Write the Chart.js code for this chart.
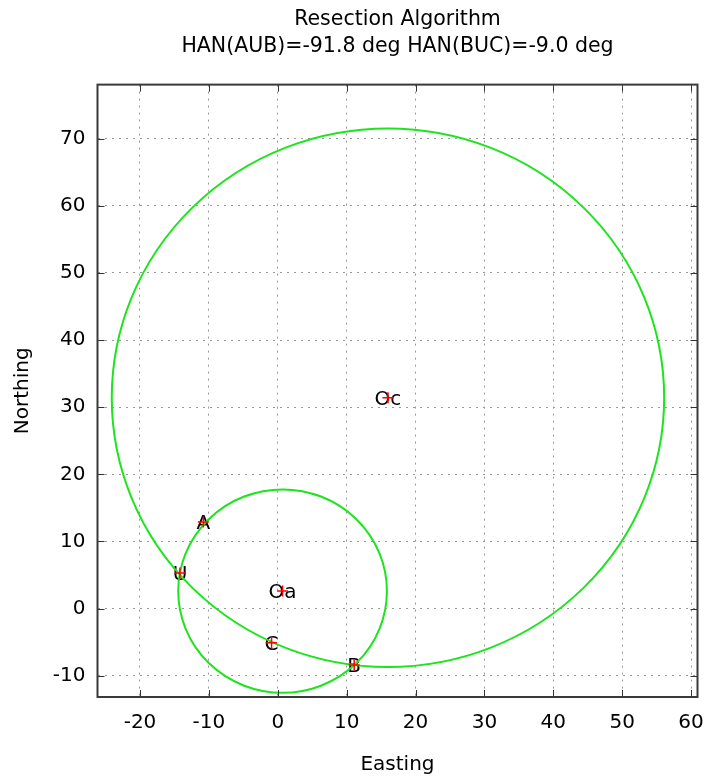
<!DOCTYPE html>
<html>
<head>
<meta charset="utf-8">
<title>Resection Algorithm</title>
<script src="https://cdn.jsdelivr.net/npm/chart.js@4.4.1/dist/chart.umd.min.js"></script>
<style>
  html, body { margin: 0; padding: 0; background: #fff; }
  #wrap { width: 707px; height: 777px; position: relative; }
</style>
</head>
<body>
<div id="wrap"><canvas id="resectionChart"></canvas></div>
<script>
// Punkty (Easting / Northing)
const pointNames = ['A', 'B', 'C', 'U', 'Oa', 'Oc'];
const pointEasting = [-10.8, 11.1, -0.9, -14.2, 0.7, 16.0];
const pointNorthing = [12.9, -8.4, -5.1, 5.3, 2.6, 31.4];

// Okręgi: środek (nazwa punktu) i promień
const circleCenters = ['Oa', 'Oc'];
const circleRadius = [15.15, 40.1];

// Podziałka osi
const xTicks = [-20, -10, 0, 10, 20, 30, 40, 50, 60];
const yTicks = [-10, 0, 10, 20, 30, 40, 50, 60, 70];

const FONT = 'DejaVu Sans';
const FONT_SIZE = 20;
const GREEN = '#1ee41e';

// Etykiety i okręgi pod znacznikami
const circlesAndLabels = {
    id: 'circlesAndLabels',
    beforeDatasetsDraw(chart) {
        const { ctx, scales: { x, y } } = chart;
        ctx.save();

        // Etykiety punktów (wyśrodkowane na punkcie)
        ctx.font = `${FONT_SIZE}px "${FONT}"`;
        ctx.fillStyle = '#000';
        ctx.textAlign = 'center';
        ctx.textBaseline = 'middle';
        pointNames.forEach((name, i) => {
            ctx.fillText(name, x.getPixelForValue(pointEasting[i]), y.getPixelForValue(pointNorthing[i]) + 2);
        });

        // Okręgi
        ctx.strokeStyle = GREEN;
        ctx.lineWidth = 2;
        circleCenters.forEach((c, i) => {
            const idx = pointNames.indexOf(c);
            const cx = x.getPixelForValue(pointEasting[idx]);
            const cy = y.getPixelForValue(pointNorthing[idx]);
            const rx = Math.abs(x.getPixelForValue(pointEasting[idx] + circleRadius[i]) - cx);
            const ry = Math.abs(y.getPixelForValue(pointNorthing[idx] + circleRadius[i]) - cy);
            ctx.beginPath();
            ctx.ellipse(cx, cy, rx, ry, 0, 0, Math.PI * 2);
            ctx.stroke();
        });
        ctx.restore();
    }
};

// Ramka i znaczniki podziałki do środka (styl gnuplot)
const frameTicks = {
    id: 'frameTicks',
    afterDraw(chart) {
        const { ctx, chartArea: a, scales: { x, y } } = chart;
        const len = 7;
        ctx.save();
        ctx.strokeStyle = '#333';
        ctx.lineWidth = 1;
        ctx.beginPath();
        xTicks.forEach(v => {
            const px = Math.round(x.getPixelForValue(v)) + 0.5;
            ctx.moveTo(px, a.bottom); ctx.lineTo(px, a.bottom - len);
            ctx.moveTo(px, a.top); ctx.lineTo(px, a.top + len);
        });
        yTicks.forEach(v => {
            const py = Math.round(y.getPixelForValue(v)) + 0.5;
            ctx.moveTo(a.left, py); ctx.lineTo(a.left + len, py);
            ctx.moveTo(a.right, py); ctx.lineTo(a.right - len, py);
        });
        ctx.stroke();
        ctx.lineWidth = 2;
        ctx.strokeStyle = '#3a3a3a';
        ctx.strokeRect(a.left, a.top, a.right - a.left, a.bottom - a.top);
        ctx.restore();
    }
};

const ctx = document.getElementById('resectionChart').getContext('2d');

new Chart(ctx, {
    type: 'scatter',
    data: {
        datasets: [{
            label: 'points',
            data: pointNames.map((n, i) => ({ x: pointEasting[i], y: pointNorthing[i] })),
            pointStyle: 'cross',
            pointRadius: 5.5,
            pointBorderColor: '#ff0000',
            pointBorderWidth: 1.5,
            showLine: false
        }]
    },
    options: {
        responsive: true,
        maintainAspectRatio: false,
        animation: false,
        layout: { padding: { left: 0, right: 9.5, top: 0, bottom: 0 } },
        plugins: {
            legend: { display: false },
            tooltip: { enabled: false },
            title: {
                display: true,
                fullSize: false,
                text: ['Resection Algorithm', 'HAN(AUB)=-91.8 deg HAN(BUC)=-9.0 deg'],
                color: '#000',
                font: { family: FONT, size: 20.5, weight: 'normal', lineHeight: 1.32 },
                padding: { top: 6.5, bottom: 24 }
            }
        },
        scales: {
            x: {
                type: 'linear',
                min: -26.17,
                max: 60.94,
                afterBuildTicks: (scale) => { scale.ticks = xTicks.map(v => ({ value: v })); },
                afterFit: (scale) => {
                    scale.height = 80;
                    scale.paddingLeft = 0;
                    scale.paddingRight = 0;
                },
                grid: { color: '#999', lineWidth: 1, drawTicks: false },
                border: { display: false, dash: [2, 5] },
                ticks: {
                    color: '#000',
                    font: { family: FONT, size: FONT_SIZE },
                    padding: 14,
                    maxRotation: 0,
                    autoSkip: false
                },
                title: {
                    display: true,
                    text: 'Easting',
                    color: '#000',
                    font: { family: FONT, size: FONT_SIZE },
                    padding: { top: 0, bottom: 0 }
                }
            },
            y: {
                type: 'linear',
                min: -13.17,
                max: 78.04,
                afterBuildTicks: (scale) => { scale.ticks = yTicks.map(v => ({ value: v })); },
                afterFit: (scale) => {
                    scale.width = 97.5;
                    scale.paddingTop = 0;
                    scale.paddingBottom = 0;
                },
                grid: { color: '#999', lineWidth: 1, drawTicks: false },
                border: { display: false, dash: [2, 5] },
                ticks: {
                    color: '#000',
                    font: { family: FONT, size: FONT_SIZE },
                    padding: 12,
                    autoSkip: false
                },
                title: {
                    display: true,
                    text: 'Northing',
                    color: '#000',
                    font: { family: FONT, size: FONT_SIZE },
                    padding: { top: 11, bottom: 0 }
                }
            }
        }
    },
    plugins: [circlesAndLabels, frameTicks]
});
</script>
</body>
</html>
